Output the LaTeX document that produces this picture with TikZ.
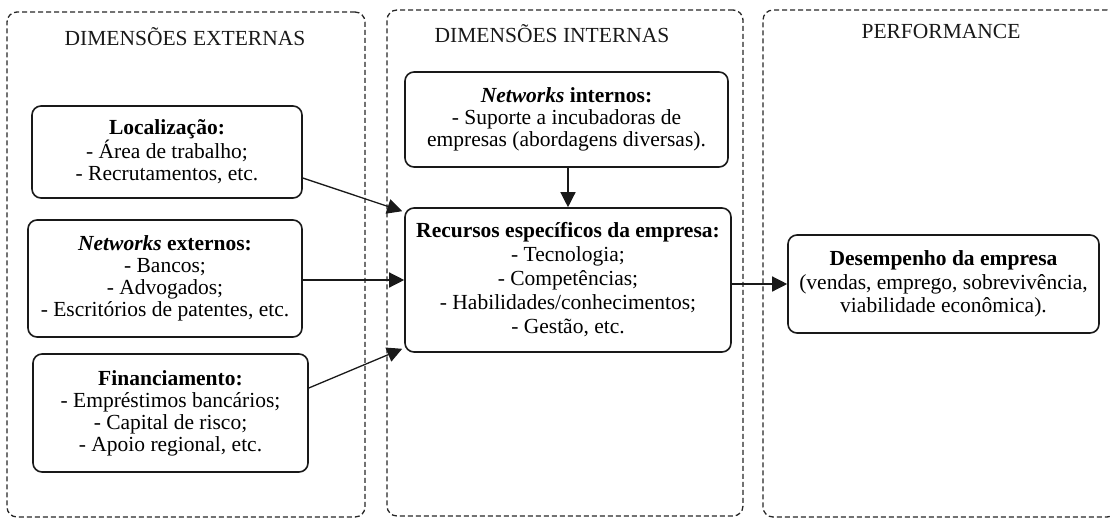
\documentclass[tikz,border=0pt]{standalone}
\usepackage{fontspec}
\setmainfont{Liberation Serif}
\usetikzlibrary{arrows.meta,calc}
\begin{document}
\begin{tikzpicture}[x=1pt,y=-1pt,
  panel/.style={draw=black!85, line width=1.3pt, dash pattern=on 5pt off 3pt,
    rounded corners=10pt, inner sep=0pt},
  factor/.style={draw=black!90, line width=1.6pt, rounded corners=9pt,
    align=center, inner sep=0pt, font=\fontsize{21.5}{22}\selectfont},
  heading/.style={font=\fontsize{21.5}{22}\selectfont, inner sep=0pt, text=black!90},
  link/.style={draw=black!90, line width=1.3pt, -{Triangle[length=15pt,width=15pt]}}]
\useasboundingbox (0,0) rectangle (1110,519);

% three dashed panels
\node[panel, minimum width=358pt, minimum height=505pt] (pext) at (186,264.5) {};
\node[panel, minimum width=356pt, minimum height=506pt] (pint) at (565,263) {};
\node[panel, minimum width=354pt, minimum height=507pt] (pperf) at (940,263.5) {};

% panel headings
\node[heading] (hext) at (185,37) {DIMENSÕES EXTERNAS};
\node[heading] (hint) at (552,34) {DIMENSÕES INTERNAS};
\node[heading] (hperf) at (941,31) {PERFORMANCE};

% external factors
\node[factor, minimum width=270pt, minimum height=92pt] (loc) at (167,152)
  {\textbf{Localização:}\\- Área de trabalho;\\- Recrutamentos, etc.};
\node[factor, minimum width=274pt, minimum height=117pt] (netext) at (165,278.5)
  {\textbf{\textit{Networks} externos:}\\- Bancos;\\- Advogados;\\- Escritórios de patentes, etc.};
\node[factor, minimum width=275pt, minimum height=118pt] (fin) at (170.5,413)
  {\textbf{Financiamento:}\\- Empréstimos bancários;\\- Capital de risco;\\- Apoio regional, etc.};

% internal factors
\node[factor, minimum width=323pt, minimum height=95pt] (netint) at (566.5,119.5)
  {\textbf{\textit{Networks} internos:}\\- Suporte a incubadoras de\\empresas (abordagens diversas).};
\node[factor, minimum width=326pt, minimum height=144pt,
  font=\fontsize{21.5}{24}\selectfont] (rec) at (568,280)
  {\textbf{Recursos específicos da empresa:}\\- Tecnologia;\\- Competências;\\- Habilidades/conhecimentos;\\- Gestão, etc.};

% performance
\node[factor, minimum width=311pt, minimum height=98pt,
  font=\fontsize{21.5}{23.3}\selectfont] (des) at (943.5,284)
  {\textbf{Desempenho da empresa}\\(vendas, emprego, sobrevivência,\\viabilidade econômica).};

% connectors
\draw[link] ([yshift=-26pt]loc.east) -- ([xshift=-2pt,yshift=-4pt]rec.north west);
\draw[link] (netext.east |- rec.west) -- (rec.west);
\draw[link] ([yshift=25pt]fin.east) -- ([xshift=-2pt,yshift=4pt]rec.south west);
\draw[link] (netint.south -| rec.north) -- (rec.north);
\draw[link] (des.west -| rec.east) -- (des.west);
\end{tikzpicture}
\end{document}
